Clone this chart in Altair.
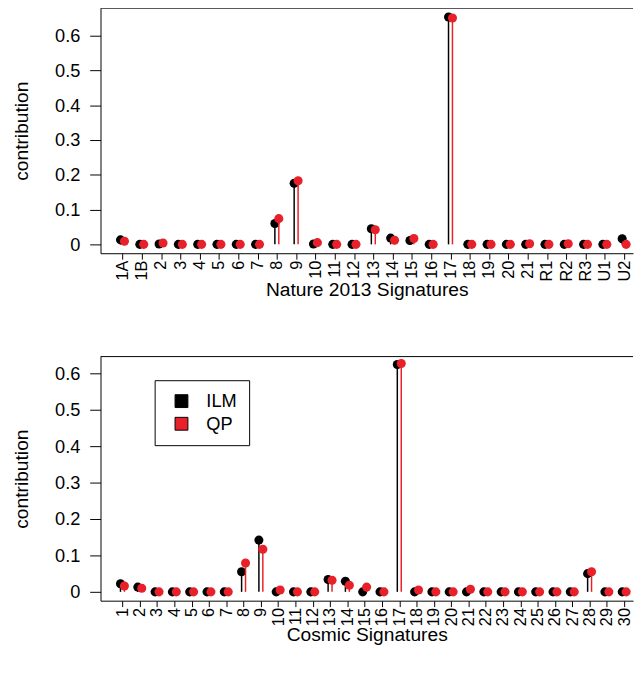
import altair as alt
import pandas as pd

RED = "#E8202A"
FONT = "Liberation Sans"
FS = 18.5
XFS = 16.5
TFS = 19.5

nature_labels = ["1A", "1B", "2", "3", "4", "5", "6", "7", "8", "9", "10", "11", "12", "13",
                 "14", "15", "16", "17", "18", "19", "20", "21", "R1", "R2", "R3", "U1", "U2"]
nature_ilm = [0.013, 0.0, 0.001, 0.0, 0.0, 0.0, 0.0, 0.0, 0.060, 0.176, 0.001, 0.0, 0.0, 0.045,
              0.018, 0.011, 0.0, 0.654, 0.0, 0.0, 0.0, 0.0, 0.0, 0.0, 0.0, 0.0, 0.016]
nature_qp = [0.009, 0.0, 0.004, 0.0, 0.0, 0.0, 0.0, 0.0, 0.074, 0.183, 0.005, 0.0, 0.0, 0.042,
             0.012, 0.017, 0.0, 0.651, 0.0, 0.0, 0.0, 0.002, 0.0, 0.002, 0.0, 0.0, 0.0]

cosmic_labels = ["1", "2", "3", "4", "5", "6", "7", "8", "9", "10", "11", "12", "13", "14", "15",
                 "16", "17", "18", "19", "20", "21", "22", "23", "24", "25", "26", "27", "28", "29", "30"]
cosmic_ilm = [0.022, 0.013, 0.0, 0.0, 0.0, 0.0, 0.0, 0.055, 0.142, 0.0, 0.0, 0.0, 0.034, 0.029, 0.0,
              0.0, 0.624, 0.0, 0.0, 0.0, 0.0, 0.0, 0.0, 0.0, 0.0, 0.0, 0.0, 0.050, 0.0, 0.0]
cosmic_qp = [0.016, 0.010, 0.0, 0.0, 0.0, 0.0, 0.0, 0.079, 0.117, 0.005, 0.0, 0.0, 0.032, 0.018, 0.013,
             0.0, 0.627, 0.005, 0.0, 0.0, 0.007, 0.0, 0.0, 0.0, 0.0, 0.0, 0.0, 0.055, 0.0, 0.0]

methods = ["ILM", "QP"]
y_ticks = [0, 0.1, 0.2, 0.3, 0.4, 0.5, 0.6]
W = 541


def make_df(labels, ilm, qp):
    rows = []
    for i, (lab, a, b) in enumerate(zip(labels, ilm, qp), start=1):
        rows.append({"idx": i, "label": lab, "method": "ILM", "value": a})
        rows.append({"idx": i, "label": lab, "method": "QP", "value": b})
    return pd.DataFrame(rows)


def panel(labels, ilm, qp, xdom, ydom, height, xtitle, title_y, show_legend):
    df = make_df(labels, ilm, qp)
    label_expr = "[" + ",".join("'%s'" % l for l in labels) + "][datum.value - 1]"
    x = alt.X("idx:Q",
              scale=alt.Scale(domain=xdom, nice=False, zero=False),
              axis=alt.Axis(values=list(range(1, len(labels) + 1)), labelExpr=label_expr,
                            labelAngle=-90, labelAlign="right", labelBaseline="middle",
                            labelOverlap=False, labelFontSize=XFS, title=xtitle, grid=False,
                            labelPadding=1, tickSize=6, titleY=title_y, titleBaseline="middle"))
    y = alt.Y("value:Q",
              scale=alt.Scale(domain=ydom, nice=False, zero=False),
              axis=alt.Axis(values=y_ticks, format="~g", title="contribution", grid=False,
                            labelPadding=10, titlePadding=23))
    base = alt.Chart(df)
    layers = []
    for m, off, col in [("ILM", -2, "black"), ("QP", 2, RED)]:
        sub = base.transform_filter(alt.datum.method == m)
        layers.append(sub.mark_rule(color=col, strokeWidth=1.5, xOffset=off)
                      .encode(x=x, y=y, y2=alt.datum(0)))
        if show_legend:
            leg = alt.Legend(title=None, orient="none", legendX=55, legendY=24,
                             symbolType="square", symbolSize=170, symbolStrokeColor="black",
                             symbolStrokeWidth=1, symbolOffset=6, labelFontSize=FS,
                             labelFont=FONT, strokeColor="black", fillColor="white",
                             padding=12, rowPadding=4, labelOffset=16, symbolOpacity=1)
            color = alt.Color("method:N", scale=alt.Scale(domain=methods, range=["black", RED]),
                              legend=leg)
            layers.append(sub.mark_circle(size=85, opacity=1, xOffset=off)
                          .encode(x=x, y=y, color=color))
        else:
            layers.append(sub.mark_circle(size=85, opacity=1, xOffset=off, color=col)
                          .encode(x=x, y=y))
    border = alt.Chart(pd.DataFrame({"v": [0]})).mark_rule(color="black", strokeWidth=1).encode(
        x=alt.value(0), x2=alt.value(W), y=alt.value(0))
    return alt.layer(*layers, border).properties(width=W, height=height)


top = panel(nature_labels, nature_ilm, nature_qp, [-0.138, 27.46], [-0.0255, 0.6793], 249,
            "Nature 2013 Signatures", 37, False)
bottom = panel(cosmic_labels, cosmic_ilm, cosmic_qp, [-0.268, 30.51], [-0.0243, 0.6459], 248,
               "Cosmic Signatures", 34, True)

chart = alt.vconcat(top, bottom, spacing=57).resolve_scale(color="independent").resolve_legend(
    color="independent"
).properties(
    padding={"left": 4, "top": -6, "right": 0, "bottom": 5}
).configure_view(stroke=None).configure_axis(
    domainColor="black", domainWidth=1, tickColor="black", tickWidth=1, tickSize=11,
    labelColor="black", titleColor="black", labelFont=FONT, titleFont=FONT,
    labelFontSize=FS, titleFontSize=TFS, titleFontWeight="normal"
).configure_legend(labelColor="black")

chart.save("out.html", embed_options={"renderer": "svg", "actions": False})
